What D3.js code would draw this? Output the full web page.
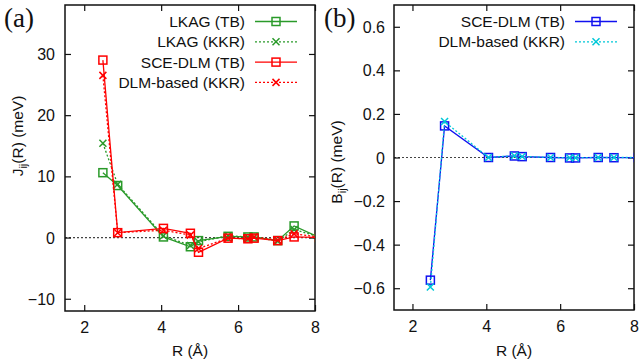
<!DOCTYPE html>
<html>
<head>
<meta charset="utf-8">
<script src="https://cdn.jsdelivr.net/npm/d3@7"></script>
<style>
  html, body { margin: 0; padding: 0; background: #fff; }
  svg { display: block; }
  text { font-family: "Liberation Sans", Arial, Helvetica, sans-serif; fill: #111; }
</style>
</head>
<body>
<svg id="chart" width="639" height="364"></svg>
<script>
// Neighbour-shell distances R (Å) of bcc Fe
const shells = [2.485, 2.870, 4.059, 4.760, 4.971, 5.740, 6.255, 6.417, 7.031, 7.457, 8.118];

// Exchange parameters J_ij (meV)
const lkagTB   = [10.6, 8.5, 0.1, -1.5, -0.5, 0.2, 0.1, 0.1, -0.5, 1.9, 0.0];
const lkagKKR  = [15.4, 8.7, 0.3, -1.3, -0.7, 0.3, 0.1, 0.1, -0.6, 1.3, 0.1];
const sceTB    = [29.0, 0.8, 1.5, 0.7, -2.4, -0.1, -0.2, -0.1, -0.5, 0.1, 0.0];
const dlmKKR   = [26.5, 0.8, 1.2, 0.4, -1.8, -0.1, -0.2, 0.1, -0.4, 0.6, 0.1];

// Biquadratic parameters B_ij (meV)
const sceB     = [-0.563, 0.145, 0.0, 0.007, 0.004, 0.0, -0.002, -0.002, 0.0, -0.001, 0.0];
const dlmB     = [-0.594, 0.165, 0.0, 0.008, 0.005, 0.0, -0.001, -0.001, 0.0, 0.0, 0.0];

// Axis ticks
const xTicks  = [2, 4, 6, 8];
const jTicks  = [-10, 0, 10, 20, 30];
const bTicks  = [-0.6, -0.4, -0.2, 0, 0.2, 0.4, 0.6];

const GREEN = "#2a9a2a", RED = "#ff0000", BLUE = "#1010f0", CYAN = "#00c8d8";
const FONT = "'Liberation Sans', Arial, Helvetica, sans-serif";

const svg = d3.select("#chart");

const panels = [
  {
    id: "a", tag: "(a)", tagX: 4,
    left: 65, right: 315, top: 5, bottom: 311,
    xDomain: [1.5, 8], yDomain: [-12, 38], yTicks: jTicks, yFmt: d3.format("d"),
    yMain: "J", yTitleX: 18, yTitleY: 136, tickLabelRight: 55,
    legendTextRight: 245, legendX0: 255, legendX1: 297, legendY0: 21.5, legendDy: 20.3,
    series: [
      { name: "LKAG (TB)", values: lkagTB, color: GREEN, dashed: false, marker: "square" },
      { name: "LKAG (KKR)", values: lkagKKR, color: GREEN, dashed: true, marker: "cross" },
      { name: "SCE-DLM (TB)", values: sceTB, color: RED, dashed: false, marker: "square" },
      { name: "DLM-based (KKR)", values: dlmKKR, color: RED, dashed: true, marker: "cross" }
    ]
  },
  {
    id: "b", tag: "(b)", tagX: 324,
    left: 394, right: 634, top: 5, bottom: 310,
    xDomain: [1.5, 8], yDomain: [-0.7, 0.7], yTicks: bTicks, yFmt: d => d === 0 ? "0" : d3.format(".1f")(d),
    yMain: "B", yTitleX: 337, yTitleY: 162, tickLabelRight: 385,
    legendTextRight: 565, legendX0: 575, legendX1: 617, legendY0: 21.5, legendDy: 20.3,
    series: [
      { name: "SCE-DLM (TB)", values: sceB, color: BLUE, dashed: false, marker: "square" },
      { name: "DLM-based (KKR)", values: dlmB, color: CYAN, dashed: true, marker: "cross" }
    ]
  }
];

function drawMarker(g, kind, x, y, color) {
  if (kind === "square") {
    g.append("rect")
      .attr("x", x - 4).attr("y", y - 4)
      .attr("width", 8).attr("height", 8)
      .attr("fill", "none").attr("stroke", color).attr("stroke-width", 1.5);
  } else {
    const s = 3.5;
    g.append("path")
      .attr("d", `M${x - s},${y - s}L${x + s},${y + s}M${x - s},${y + s}L${x + s},${y - s}`)
      .attr("stroke", color).attr("stroke-width", 1.5).attr("fill", "none");
  }
}

panels.forEach(p => {
  const x = d3.scaleLinear().domain(p.xDomain).range([p.left, p.right]);
  const y = d3.scaleLinear().domain(p.yDomain).range([p.bottom, p.top]);
  const g = svg.append("g").attr("class", "panel-" + p.id);

  // clip region for the data
  svg.append("clipPath").attr("id", "clip-" + p.id)
    .append("rect").attr("x", p.left).attr("y", p.top)
    .attr("width", p.right - p.left).attr("height", p.bottom - p.top);

  // zero reference line
  g.append("line")
    .attr("x1", p.left).attr("x2", p.right)
    .attr("y1", y(0)).attr("y2", y(0))
    .attr("stroke", "#444").attr("stroke-width", 1.2)
    .attr("stroke-dasharray", "2,2");

  // x axis: ticks inside on bottom and top, labels below
  const xb = g.append("g").attr("transform", `translate(0,${p.bottom})`)
    .call(d3.axisBottom(x).tickValues(xTicks).tickSize(-6).tickFormat(d3.format("d")));
  xb.select(".domain").remove();
  xb.selectAll("text").attr("y", 0).attr("dy", 0)
    .attr("transform", "translate(0,22)")
    .style("font-size", "16px").style("font-family", FONT);
  const xt = g.append("g").attr("transform", `translate(0,${p.top})`)
    .call(d3.axisTop(x).tickValues(xTicks).tickSize(-6).tickFormat(""));
  xt.select(".domain").remove();

  // y axis: ticks inside on left and right
  const yl = g.append("g").attr("transform", `translate(${p.left},0)`)
    .call(d3.axisLeft(y).tickValues(p.yTicks).tickSize(-6).tickFormat(p.yFmt));
  yl.select(".domain").remove();
  yl.selectAll("text").attr("x", 0).attr("dy", "0.35em")
    .attr("transform", `translate(${p.tickLabelRight - p.left},0)`)
    .attr("text-anchor", "end")
    .style("font-size", "16px").style("font-family", FONT);
  const yr = g.append("g").attr("transform", `translate(${p.right},0)`)
    .call(d3.axisRight(y).tickValues(p.yTicks).tickSize(-6).tickFormat(""));
  yr.select(".domain").remove();
  g.selectAll(".tick line").attr("stroke", "#111").attr("stroke-width", 1.2);

  // frame
  g.append("rect")
    .attr("x", p.left).attr("y", p.top)
    .attr("width", p.right - p.left).attr("height", p.bottom - p.top)
    .attr("fill", "none").attr("stroke", "#111").attr("stroke-width", 1.5);

  // series
  const dataG = g.append("g").attr("clip-path", `url(#clip-${p.id})`);
  const line = d3.line().x(d => x(d[0])).y(d => y(d[1]));
  p.series.forEach(s => {
    const pts = shells.map((r, i) => [r, s.values[i]]);
    dataG.append("path")
      .datum(pts)
      .attr("d", line)
      .attr("fill", "none")
      .attr("stroke", s.color)
      .attr("stroke-width", 1.3)
      .attr("stroke-dasharray", s.dashed ? "2,2" : null);
    pts.forEach(d => drawMarker(dataG, s.marker, x(d[0]), y(d[1]), s.color));
  });

  // legend
  p.series.forEach((s, i) => {
    const ly = p.legendY0 + i * p.legendDy;
    g.append("text")
      .attr("x", p.legendTextRight).attr("y", ly).attr("dy", "0.35em")
      .attr("text-anchor", "end").style("font-size", "15.5px")
      .text(s.name);
    g.append("line")
      .attr("x1", p.legendX0).attr("x2", p.legendX1)
      .attr("y1", ly).attr("y2", ly)
      .attr("stroke", s.color).attr("stroke-width", 1.3)
      .attr("stroke-dasharray", s.dashed ? "2,2" : null);
    drawMarker(g, s.marker, (p.legendX0 + p.legendX1) / 2, ly, s.color);
  });

  // axis titles
  g.append("text")
    .attr("x", (p.left + p.right) / 2).attr("y", 356)
    .attr("text-anchor", "middle").style("font-size", "15.5px")
    .text("R (Å)");
  const yt = g.append("text")
    .attr("transform", `translate(${p.yTitleX},${p.yTitleY}) rotate(-90)`)
    .attr("text-anchor", "middle").attr("dy", "0.35em")
    .style("font-size", "15.5px");
  yt.append("tspan").text(p.yMain);
  yt.append("tspan").attr("dy", 4).style("font-size", "11px").text("ij");
  yt.append("tspan").attr("dy", -4).text("(R) (meV)");

  // panel tag
  g.append("text")
    .attr("x", p.tagX).attr("y", 27)
    .style("font-family", "'Liberation Serif', 'Times New Roman', serif")
    .style("font-size", "27px")
    .text(p.tag);
});
</script>
</body>
</html>
